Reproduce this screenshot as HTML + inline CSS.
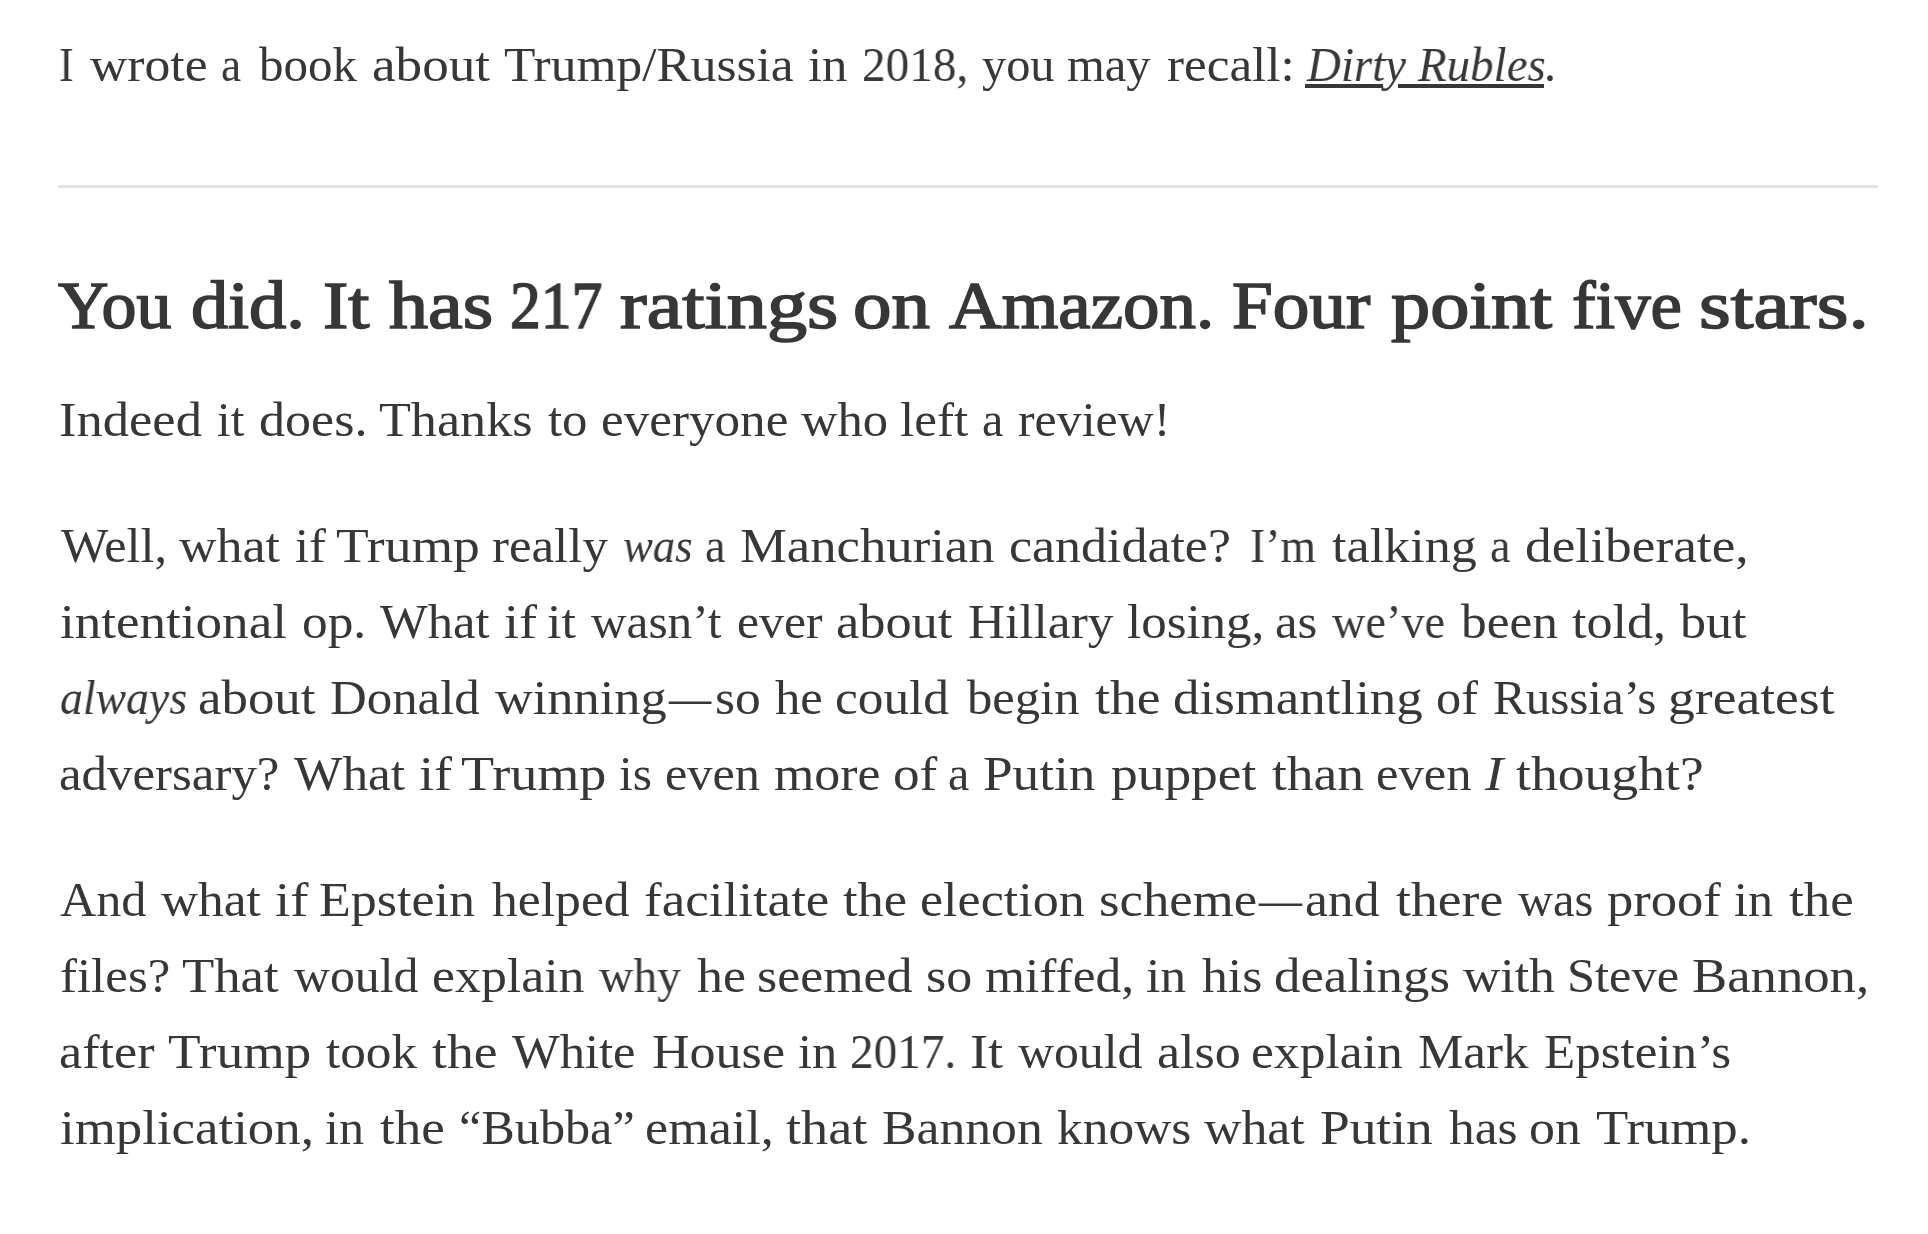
<!DOCTYPE html>
<html><head><meta charset="utf-8"><style>
html,body{margin:0;padding:0;background:#fff;width:1928px;height:1234px;overflow:hidden}
body{position:relative;color:#363737;font-family:"Liberation Serif",serif}
.w{position:absolute;white-space:nowrap;line-height:76px;height:76px;transform-origin:0 0;will-change:transform}
.r{font-size:48px;font-weight:400}
.b{font-size:68px;font-weight:400;-webkit-text-stroke:1.6px #363737}
hr{position:absolute;left:58px;top:185px;width:1820px;height:3px;margin:0;border:0;background:#e3e3e3}
.ul{position:absolute;top:84px;height:4px;background:#363737}
</style></head><body>
<span class="w r" style="left:59.37px;top:27px;transform:scaleX(0.9154)">I</span>
<span class="w r" style="left:89.80px;top:27px;transform:scaleX(1.0759)">wrote</span>
<span class="w r" style="left:221.06px;top:27px;transform:scaleX(0.9400)">a</span>
<span class="w r" style="left:259.00px;top:27px;transform:scaleX(1.0208)">book</span>
<span class="w r" style="left:372.49px;top:27px;transform:scaleX(1.1067)">about</span>
<span class="w r" style="left:503.63px;top:27px;transform:scaleX(1.0714)">Trump/Russia</span>
<span class="w r" style="left:808.44px;top:27px;transform:scaleX(1.0583)">in</span>
<span class="w r" style="left:862.23px;top:27px;transform:scaleX(0.9835)">2018,</span>
<span class="w r" style="left:982.00px;top:27px;transform:scaleX(1.0056)">you</span>
<span class="w r" style="left:1067.39px;top:27px;transform:scaleX(1.0122)">may</span>
<span class="w r" style="left:1166.93px;top:27px;transform:scaleX(1.0652)">recall:</span>
<span class="w r" style="left:1306.68px;top:27px;transform:scaleX(0.9765)"><i>Dirty</i></span>
<span class="w r" style="left:1417.80px;top:27px;transform:scaleX(0.9775)"><i>Rubles</i></span>
<span class="w r" style="left:1544.00px;top:27px;transform:scaleX(1.0000)">.</span>
<div class="ul" style="left:1305px;width:78px"></div><div class="ul" style="left:1398px;width:146px"></div>
<hr>
<span class="w b" style="left:58.00px;top:267px;transform:scaleX(1.0282)">You</span>
<span class="w b" style="left:190.90px;top:267px;transform:scaleX(1.0970)">did.</span>
<span class="w b" style="left:322.68px;top:267px;transform:scaleX(1.1171)">It</span>
<span class="w b" style="left:388.60px;top:267px;transform:scaleX(1.1483)">has</span>
<span class="w b" style="left:509.59px;top:267px;transform:scaleX(0.9051)">217</span>
<span class="w b" style="left:619.90px;top:267px;transform:scaleX(1.1792)">ratings</span>
<span class="w b" style="left:853.34px;top:267px;transform:scaleX(1.1318)">on</span>
<span class="w b" style="left:948.60px;top:267px;transform:scaleX(1.0717)">Amazon.</span>
<span class="w b" style="left:1231.72px;top:267px;transform:scaleX(1.0766)">Four</span>
<span class="w b" style="left:1390.90px;top:267px;transform:scaleX(1.1518)">point</span>
<span class="w b" style="left:1571.96px;top:267px;transform:scaleX(1.0388)">five</span>
<span class="w b" style="left:1699.00px;top:267px;transform:scaleX(1.1993)">stars.</span>
<span class="w r" style="left:58.71px;top:382px;transform:scaleX(1.0945)">Indeed</span>
<span class="w r" style="left:216.58px;top:382px;transform:scaleX(1.0240)">it</span>
<span class="w r" style="left:258.53px;top:382px;transform:scaleX(1.0842)">does.</span>
<span class="w r" style="left:379.21px;top:382px;transform:scaleX(1.0863)">Thanks</span>
<span class="w r" style="left:547.90px;top:382px;transform:scaleX(1.0583)">to</span>
<span class="w r" style="left:600.57px;top:382px;transform:scaleX(1.0651)">everyone</span>
<span class="w r" style="left:800.80px;top:382px;transform:scaleX(1.0531)">who</span>
<span class="w r" style="left:900.33px;top:382px;transform:scaleX(1.0651)">left</span>
<span class="w r" style="left:982.40px;top:382px;transform:scaleX(0.9950)">a</span>
<span class="w r" style="left:1017.86px;top:382px;transform:scaleX(1.0386)">review!</span>
<span class="w r" style="left:61.00px;top:508px;transform:scaleX(1.0455)">Well,</span>
<span class="w r" style="left:179.40px;top:508px;transform:scaleX(1.0817)">what</span>
<span class="w r" style="left:295.34px;top:508px;transform:scaleX(1.0571)">if</span>
<span class="w r" style="left:336.38px;top:508px;transform:scaleX(1.1151)">Trump</span>
<span class="w r" style="left:492.04px;top:508px;transform:scaleX(1.0602)">really</span>
<span class="w r" style="left:622.67px;top:508px;transform:scaleX(0.9306)"><i>was</i></span>
<span class="w r" style="left:704.64px;top:508px;transform:scaleX(0.9600)">a</span>
<span class="w r" style="left:740.30px;top:508px;transform:scaleX(1.0978)">Manchurian</span>
<span class="w r" style="left:1009.44px;top:508px;transform:scaleX(1.0816)">candidate?</span>
<span class="w r" style="left:1250.40px;top:508px;transform:scaleX(0.9507)">I’m</span>
<span class="w r" style="left:1332.00px;top:508px;transform:scaleX(1.0864)">talking</span>
<span class="w r" style="left:1490.34px;top:508px;transform:scaleX(0.9600)">a</span>
<span class="w r" style="left:1524.88px;top:508px;transform:scaleX(1.1117)">deliberate,</span>
<span class="w r" style="left:59.69px;top:584px;transform:scaleX(1.1054)">intentional</span>
<span class="w r" style="left:301.76px;top:584px;transform:scaleX(1.0691)">op.</span>
<span class="w r" style="left:380.30px;top:584px;transform:scaleX(1.0529)">What</span>
<span class="w r" style="left:503.57px;top:584px;transform:scaleX(1.1286)">if</span>
<span class="w r" style="left:546.81px;top:584px;transform:scaleX(1.0880)">it</span>
<span class="w r" style="left:591.00px;top:584px;transform:scaleX(1.0260)">wasn’t</span>
<span class="w r" style="left:736.82px;top:584px;transform:scaleX(1.0375)">ever</span>
<span class="w r" style="left:836.41px;top:584px;transform:scaleX(1.0905)">about</span>
<span class="w r" style="left:967.53px;top:584px;transform:scaleX(1.0696)">Hillary</span>
<span class="w r" style="left:1126.94px;top:584px;transform:scaleX(1.0616)">losing,</span>
<span class="w r" style="left:1275.44px;top:584px;transform:scaleX(1.0595)">as</span>
<span class="w r" style="left:1332.30px;top:584px;transform:scaleX(0.9638)">we’ve</span>
<span class="w r" style="left:1460.70px;top:584px;transform:scaleX(1.0700)">been</span>
<span class="w r" style="left:1572.00px;top:584px;transform:scaleX(1.0857)">told,</span>
<span class="w r" style="left:1679.80px;top:584px;transform:scaleX(1.0852)">but</span>
<span class="w r" style="left:59.65px;top:660px;transform:scaleX(0.9527)"><i>always</i></span>
<span class="w r" style="left:198.20px;top:660px;transform:scaleX(1.1010)">about</span>
<span class="w r" style="left:330.44px;top:660px;transform:scaleX(1.0593)">Donald</span>
<span class="w r" style="left:494.80px;top:660px;transform:scaleX(1.0910)">winning</span>
<span class="w r" style="left:668.88px;top:660px;transform:scaleX(0.8800)">—</span>
<span class="w r" style="left:714.86px;top:660px;transform:scaleX(1.0718)">so</span>
<span class="w r" style="left:775.40px;top:660px;transform:scaleX(1.0568)">he</span>
<span class="w r" style="left:835.36px;top:660px;transform:scaleX(1.0692)">could</span>
<span class="w r" style="left:967.00px;top:660px;transform:scaleX(1.0547)">begin</span>
<span class="w r" style="left:1094.80px;top:660px;transform:scaleX(1.1175)">the</span>
<span class="w r" style="left:1172.90px;top:660px;transform:scaleX(1.1018)">dismantling</span>
<span class="w r" style="left:1436.41px;top:660px;transform:scaleX(1.0474)">of</span>
<span class="w r" style="left:1492.98px;top:660px;transform:scaleX(1.0210)">Russia’s</span>
<span class="w r" style="left:1667.67px;top:660px;transform:scaleX(1.1163)">greatest</span>
<span class="w r" style="left:58.84px;top:736px;transform:scaleX(1.0605)">adversary?</span>
<span class="w r" style="left:294.00px;top:736px;transform:scaleX(1.0683)">What</span>
<span class="w r" style="left:418.87px;top:736px;transform:scaleX(1.1286)">if</span>
<span class="w r" style="left:461.07px;top:736px;transform:scaleX(1.1278)">Trump</span>
<span class="w r" style="left:619.17px;top:736px;transform:scaleX(1.0310)">is</span>
<span class="w r" style="left:664.50px;top:736px;transform:scaleX(1.0477)">even</span>
<span class="w r" style="left:774.32px;top:736px;transform:scaleX(1.0792)">more</span>
<span class="w r" style="left:892.78px;top:736px;transform:scaleX(1.1079)">of</span>
<span class="w r" style="left:947.71px;top:736px;transform:scaleX(0.9950)">a</span>
<span class="w r" style="left:983.49px;top:736px;transform:scaleX(1.1080)">Putin</span>
<span class="w r" style="left:1110.89px;top:736px;transform:scaleX(1.1124)">puppet</span>
<span class="w r" style="left:1271.50px;top:736px;transform:scaleX(1.1134)">than</span>
<span class="w r" style="left:1375.69px;top:736px;transform:scaleX(1.0557)">even</span>
<span class="w r" style="left:1485.00px;top:736px;transform:scaleX(1.1444)"><i>I</i></span>
<span class="w r" style="left:1515.50px;top:736px;transform:scaleX(1.1175)">thought?</span>
<span class="w r" style="left:59.90px;top:862px;transform:scaleX(1.0451)">And</span>
<span class="w r" style="left:161.20px;top:862px;transform:scaleX(1.0699)">what</span>
<span class="w r" style="left:275.16px;top:862px;transform:scaleX(1.1393)">if</span>
<span class="w r" style="left:319.42px;top:862px;transform:scaleX(1.0839)">Epstein</span>
<span class="w r" style="left:491.50px;top:862px;transform:scaleX(1.0758)">helped</span>
<span class="w r" style="left:644.30px;top:862px;transform:scaleX(1.1042)">facilitate</span>
<span class="w r" style="left:843.20px;top:862px;transform:scaleX(1.0947)">the</span>
<span class="w r" style="left:920.03px;top:862px;transform:scaleX(1.0840)">election</span>
<span class="w r" style="left:1099.20px;top:862px;transform:scaleX(1.0979)">scheme</span>
<span class="w r" style="left:1259.20px;top:862px;transform:scaleX(0.8960)">—</span>
<span class="w r" style="left:1305.33px;top:862px;transform:scaleX(1.0735)">and</span>
<span class="w r" style="left:1396.00px;top:862px;transform:scaleX(1.1179)">there</span>
<span class="w r" style="left:1518.20px;top:862px;transform:scaleX(1.0096)">was</span>
<span class="w r" style="left:1607.40px;top:862px;transform:scaleX(1.0951)">proof</span>
<span class="w r" style="left:1734.26px;top:862px;transform:scaleX(1.0417)">in</span>
<span class="w r" style="left:1789.40px;top:862px;transform:scaleX(1.1053)">the</span>
<span class="w r" style="left:59.54px;top:938px;transform:scaleX(1.0614)">files?</span>
<span class="w r" style="left:182.30px;top:938px;transform:scaleX(1.0989)">That</span>
<span class="w r" style="left:294.00px;top:938px;transform:scaleX(1.0367)">would</span>
<span class="w r" style="left:432.24px;top:938px;transform:scaleX(1.0791)">explain</span>
<span class="w r" style="left:599.30px;top:938px;transform:scaleX(0.9904)">why</span>
<span class="w r" style="left:697.10px;top:938px;transform:scaleX(1.0795)">he</span>
<span class="w r" style="left:757.34px;top:938px;transform:scaleX(1.0803)">seemed</span>
<span class="w r" style="left:925.94px;top:938px;transform:scaleX(1.0821)">so</span>
<span class="w r" style="left:984.83px;top:938px;transform:scaleX(1.0719)">miffed,</span>
<span class="w r" style="left:1146.12px;top:938px;transform:scaleX(1.0778)">in</span>
<span class="w r" style="left:1202.20px;top:938px;transform:scaleX(1.0759)">his</span>
<span class="w r" style="left:1273.70px;top:938px;transform:scaleX(1.1000)">dealings</span>
<span class="w r" style="left:1463.10px;top:938px;transform:scaleX(1.0776)">with</span>
<span class="w r" style="left:1567.15px;top:938px;transform:scaleX(1.0510)">Steve</span>
<span class="w r" style="left:1692.00px;top:938px;transform:scaleX(1.0981)">Bannon,</span>
<span class="w r" style="left:58.81px;top:1014px;transform:scaleX(1.0874)">after</span>
<span class="w r" style="left:168.39px;top:1014px;transform:scaleX(1.1111)">Trump</span>
<span class="w r" style="left:326.10px;top:1014px;transform:scaleX(1.0671)">took</span>
<span class="w r" style="left:431.70px;top:1014px;transform:scaleX(1.1175)">the</span>
<span class="w r" style="left:512.00px;top:1014px;transform:scaleX(1.0534)">White</span>
<span class="w r" style="left:651.52px;top:1014px;transform:scaleX(1.0842)">House</span>
<span class="w r" style="left:797.65px;top:1014px;transform:scaleX(1.0500)">in</span>
<span class="w r" style="left:850.43px;top:1014px;transform:scaleX(0.9835)">2017.</span>
<span class="w r" style="left:969.74px;top:1014px;transform:scaleX(1.1296)">It</span>
<span class="w r" style="left:1018.40px;top:1014px;transform:scaleX(1.0375)">would</span>
<span class="w r" style="left:1156.71px;top:1014px;transform:scaleX(1.0853)">also</span>
<span class="w r" style="left:1251.35px;top:1014px;transform:scaleX(1.0734)">explain</span>
<span class="w r" style="left:1418.24px;top:1014px;transform:scaleX(1.0631)">Mark</span>
<span class="w r" style="left:1544.34px;top:1014px;transform:scaleX(1.0630)">Epstein’s</span>
<span class="w r" style="left:59.50px;top:1090px;transform:scaleX(1.1009)">implication,</span>
<span class="w r" style="left:325.06px;top:1090px;transform:scaleX(1.0444)">in</span>
<span class="w r" style="left:380.30px;top:1090px;transform:scaleX(1.1053)">the</span>
<span class="w r" style="left:458.81px;top:1090px;transform:scaleX(1.0463)">“Bubba”</span>
<span class="w r" style="left:645.13px;top:1090px;transform:scaleX(1.0860)">email,</span>
<span class="w r" style="left:786.00px;top:1090px;transform:scaleX(1.1306)">that</span>
<span class="w r" style="left:881.92px;top:1090px;transform:scaleX(1.0764)">Bannon</span>
<span class="w r" style="left:1056.53px;top:1090px;transform:scaleX(1.0715)">knows</span>
<span class="w r" style="left:1204.30px;top:1090px;transform:scaleX(1.0796)">what</span>
<span class="w r" style="left:1320.19px;top:1090px;transform:scaleX(1.1120)">Putin</span>
<span class="w r" style="left:1449.10px;top:1090px;transform:scaleX(1.0710)">has</span>
<span class="w r" style="left:1529.34px;top:1090px;transform:scaleX(1.0804)">on</span>
<span class="w r" style="left:1595.80px;top:1090px;transform:scaleX(1.0993)">Trump.</span>
</body></html>
